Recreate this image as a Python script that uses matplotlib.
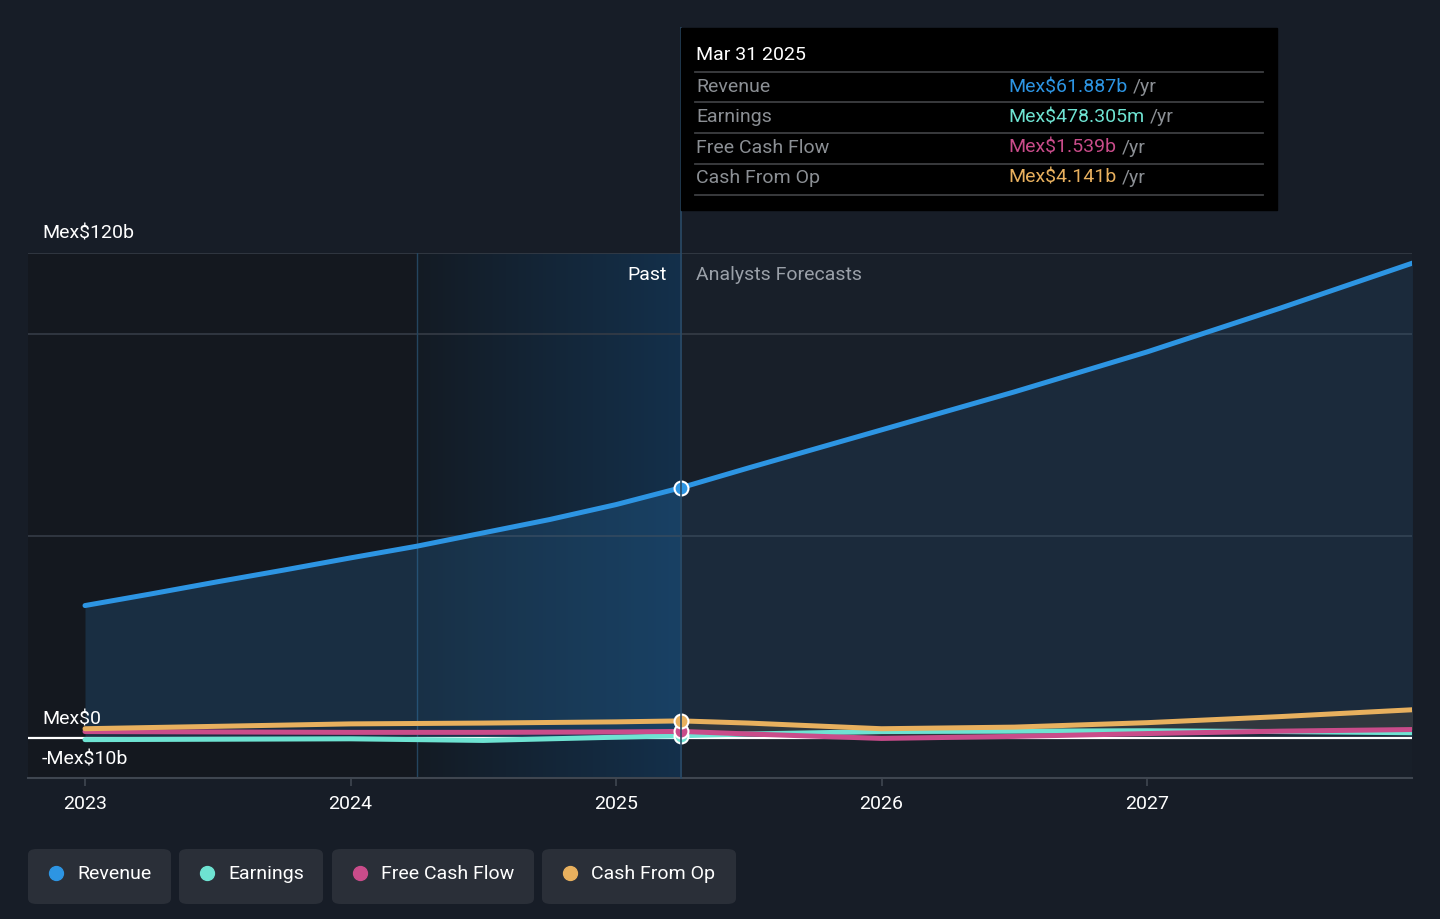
import numpy as np
import matplotlib.pyplot as plt
from matplotlib.patches import FancyBboxPatch, Rectangle
from matplotlib.colors import LinearSegmentedColormap

plt.rcParams['font.family'] = ['Roboto', 'DejaVu Sans']

# data (Mex$ billions)
rev_years = [2023.0, 2023.25, 2023.5, 2023.75, 2024.0, 2024.25, 2024.5, 2024.75, 2025.0, 2025.245,
             2025.5, 2026.0, 2026.5, 2027.0, 2027.5, 2028.0]
revenue = [32.7, 35.6, 38.6, 41.5, 44.5, 47.4, 50.7, 54.0, 57.7, 61.887,
           66.8, 76.2, 85.6, 95.5, 106.3, 117.5]

years = [2023.0, 2023.5, 2024.0, 2024.5, 2025.0, 2025.245, 2025.5, 2026.0, 2026.5, 2027.0, 2027.5, 2028.0]
earnings = [-0.5, -0.4, -0.3, -0.7, 0.1, 0.478, 0.9, 1.5, 1.6, 1.7, 1.5, 1.2]
fcf = [1.5, 1.4, 1.3, 1.3, 1.4, 1.539, 0.9, -0.2, 0.3, 1.0, 1.6, 2.0]
cfo = [2.2, 2.8, 3.4, 3.6, 3.9, 4.141, 3.6, 2.2, 2.6, 3.7, 5.2, 6.9]

now = 2025.245
past_start = 2024.25
tick_years = [2023, 2024, 2025, 2026, 2027]
grid_vals = [50, 100, 120]

names = ['Revenue', 'Earnings', 'Free Cash Flow', 'Cash From Op']
colors = ['#2d95e3', '#6ee3d2', '#c94c8a', '#e8b05e']
tip_vals = ['Mex$61.887b', 'Mex$478.305m', 'Mex$1.539b', 'Mex$4.141b']

W, H = 1440, 919
FS = 14
fig = plt.figure(figsize=(W / 100, H / 100), dpi=100)
fig.patch.set_facecolor('#171d27')


def fx(px):
    return px / W


def fy(py):
    return 1 - py / H


ax = fig.add_axes([fx(28), fy(778), fx(1384), (778 - 253) / H])
ax.set_facecolor('#181f29')
x0 = 2023 + (28 - 85) / 265.5
x1 = 2023 + (1412 - 85) / 265.5
ax.set_xlim(x0, x1)
ax.set_ylim(-10, 120)

# background regions
ax.axvspan(x0, past_start, color='#14181f', zorder=0)
grad = np.linspace(0, 1, 256).reshape(1, -1)
cmap = LinearSegmentedColormap.from_list('g', ['#141b24', '#13304b'])
ax.imshow(grad, extent=[past_start, now, -10, 120], aspect='auto', cmap=cmap, zorder=0.5)

for g in grid_vals:
    ax.axhline(g, color='#353c46', lw=1.2, zorder=1)

rx = np.array(rev_years)
rev = np.array(revenue)
ax.fill_between(rx, 0, rev, where=rx <= now + 1e-9, color='#2d7fc0', alpha=0.22, lw=0, zorder=1.5)
ax.fill_between(rx, 0, rev, where=rx >= now - 1e-9, color='#2d6fa8', alpha=0.15, lw=0, zorder=1.5)
x = np.array(years)
ax.fill_between(x, np.array(fcf), np.array(cfo), where=x >= now - 1e-9, color='#3a3d40', alpha=0.7, lw=0, zorder=1.6)

ax.axhline(0, color='white', lw=1.6, zorder=2)
ax.axvline(past_start, color='#24455f', lw=1, zorder=1.2)

series_x = [rev_years, years, years, years]
series = [revenue, earnings, fcf, cfo]
for i in [1, 2, 3, 0]:
    ax.plot(series_x[i], series[i], color=colors[i], lw=3.6, zorder=3,
            solid_capstyle='round', solid_joinstyle='round')
for i in [1, 2, 3, 0]:
    ax.plot(now, series[i][series_x[i].index(now)], 'o', ms=10, mfc=colors[i], mec='white', mew=1.5, zorder=4)

for s in ['top', 'right', 'left']:
    ax.spines[s].set_visible(False)
ax.spines['bottom'].set_color('#3f4650')
ax.spines['bottom'].set_linewidth(1.5)
ax.set_yticks([])
ax.set_xticks(tick_years)
ax.set_xticklabels([str(t) for t in tick_years])
ax.tick_params(axis='x', colors='#3f4650', labelcolor='white', labelsize=FS, length=6, width=1.2, pad=6)

ytr = ax.get_yaxis_transform()
ax.text(0.0101, 124.8, 'Mex$120b', transform=ytr, color='white', fontsize=FS, va='center', ha='left', clip_on=False)
ax.text(0.0101, 4.6, 'Mex$0', transform=ytr, color='white', fontsize=FS, va='center', ha='left')
ax.text(0.0101, -5.5, '-Mex$10b', transform=ytr, color='white', fontsize=FS, va='center', ha='left')
ax.text(now - 0.055, 114.5, 'Past', color='white', fontsize=FS, ha='right', va='center')
ax.text(now + 0.055, 114.5, 'Analysts Forecasts', color='#9aa0a8', fontsize=FS, ha='left', va='center')

# now line reaching up to tooltip
fig.add_artist(plt.Line2D([fx(681), fx(681)], [fy(778), fy(28)], color='#2a4a66', lw=1.2, zorder=1))

# tooltip
fig.add_artist(Rectangle((fx(681), fy(210)), fx(1277 - 681), (210 - 28) / H, color='black', zorder=5))
fig.text(fx(696), fy(55), 'Mar 31 2025', color='white', fontsize=FS, va='center', zorder=6)
for yy in [72, 102, 133, 164, 195]:
    fig.add_artist(plt.Line2D([fx(695), fx(1263)], [fy(yy), fy(yy)], color='#3d3f42', lw=1.3, zorder=6))
row_y = [87, 117, 148, 178]
for i in range(4):
    fig.text(fx(696), fy(row_y[i]), names[i], color='#8b8f94', fontsize=FS, va='center', zorder=6)
    t = fig.text(fx(1008), fy(row_y[i]), tip_vals[i], color=colors[i], fontsize=FS, va='center', zorder=6)
    fig.canvas.draw()
    bb = t.get_window_extent()
    fig.text(bb.x1 / W + fx(6), fy(row_y[i]), '/yr', color='#8b8f94', fontsize=FS, va='center', zorder=6)

# legend
boxes = [(28, 171), (179, 323), (332, 534), (542, 736)]
for i, (l, r) in enumerate(boxes):
    fig.add_artist(FancyBboxPatch((fx(l), fy(904)), fx(r - l), 55 / H,
                                  boxstyle='round,pad=0,rounding_size=0.006',
                                  color='#2a2f38', lw=0, zorder=1))
    fig.add_artist(plt.Line2D([fx(l + 28)], [fy(873)], marker='o', ms=10, color=colors[i], lw=0))
    fig.text(fx(l + 49), fy(874), names[i], color='white', fontsize=FS, va='center')

fig.savefig('out.png', dpi=100, facecolor=fig.get_facecolor())
